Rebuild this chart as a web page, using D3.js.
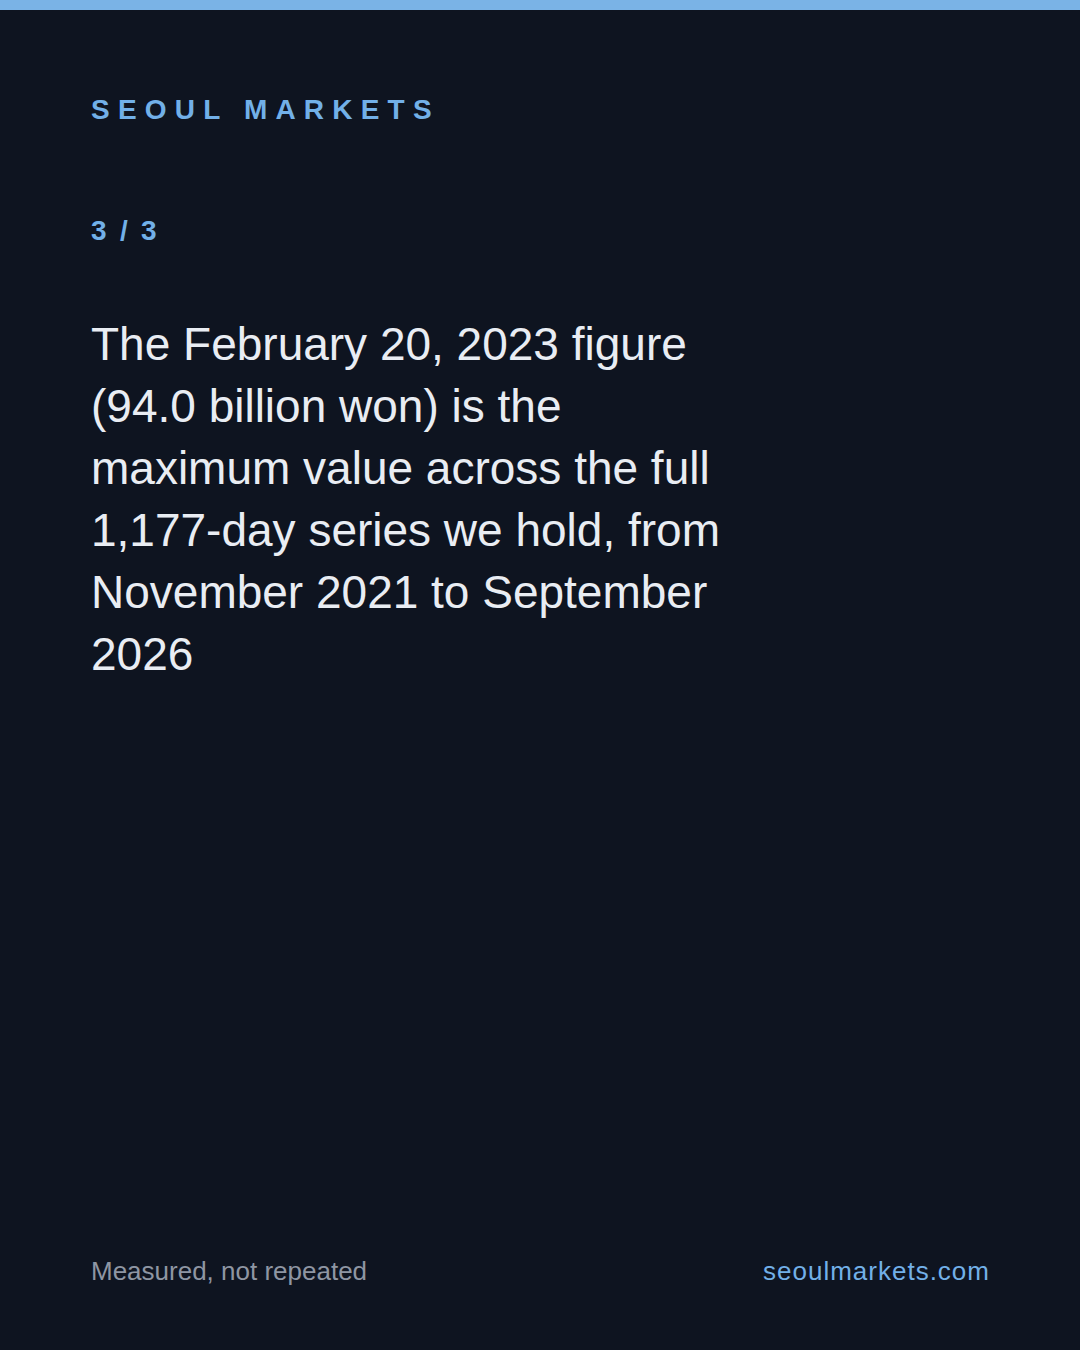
<!DOCTYPE html>
<html><head><meta charset="utf-8">
<script src="https://cdn.jsdelivr.net/npm/d3@7"></script>
<style>html,body{margin:0;padding:0;background:#0e1420;}svg{display:block;}</style>
</head><body>
<svg id="card" width="1080" height="1350"></svg>
<script>
const brand = "SEOUL MARKETS";
const pageLabel = "3 / 3";
const bodyText = "The February 20, 2023 figure (94.0 billion won) is the maximum value across the full 1,177-day series we hold, from November 2021 to September 2026";
const footerLeft = "Measured, not repeated";
const footerRight = "seoulmarkets.com";

const W = 1080, H = 1350;
const font = "'Liberation Sans', Arial, Helvetica, sans-serif";
const svg = d3.select("#card");
svg.append("rect").attr("width", W).attr("height", H).attr("fill", "#0e1420");
svg.append("rect").attr("width", W).attr("height", 10).attr("fill", "#7ab3e6");

svg.append("text").attr("x", 91).attr("y", 119)
  .attr("font-family", font).attr("font-size", 28).attr("font-weight", 700)
  .attr("letter-spacing", 8.2).attr("fill", "#72b0e8").text(brand);

svg.append("text").attr("x", 91).attr("y", 240)
  .attr("font-family", font).attr("font-size", 28).attr("font-weight", 700)
  .attr("letter-spacing", 2.8).attr("fill", "#72b0e8").text(pageLabel);

// wrap body text
const bodySize = 46;
const body = svg.append("text").attr("font-family", font).attr("font-size", bodySize)
  .attr("fill", "#e9edf3");
const maxW = 660;
const words = bodyText.split(" ");
let lines = [], cur = "";
const probe = svg.append("text").attr("font-family", font).attr("font-size", bodySize);
words.forEach(w => {
  const t = cur ? cur + " " + w : w;
  probe.text(t);
  if (probe.node().getComputedTextLength() > maxW && cur) { lines.push(cur); cur = w; }
  else cur = t;
});
if (cur) lines.push(cur);
probe.remove();
body.selectAll("tspan").data(lines).join("tspan")
  .attr("x", 91).attr("y", (d, i) => 360 + i * 62).text(d => d);

svg.append("text").attr("x", 91).attr("y", 1280)
  .attr("font-family", font).attr("font-size", 26).attr("fill", "#8e96a3").text(footerLeft);
svg.append("text").attr("x", 990).attr("y", 1280).attr("text-anchor", "end")
  .attr("font-family", font).attr("font-size", 26).attr("letter-spacing", 1).attr("fill", "#72b0e8").text(footerRight);
</script>
</body></html>
